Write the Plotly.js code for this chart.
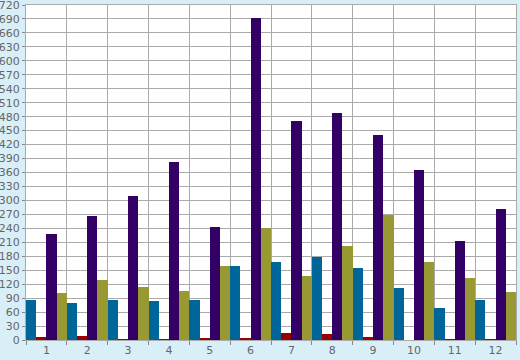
<!DOCTYPE html>
<html>
<head>
<meta charset="utf-8">
<script src="https://cdn.plot.ly/plotly-3.0.1.min.js"></script>
<style>html,body{margin:0;padding:0;background:#d9eff7;}#chart{width:520px;height:360px;}</style>
</head>
<body>
<div id="chart"></div>
<script>
var categories = ["1","2","3","4","5","6","7","8","9","10","11","12"];
var seriesBlue = [86, 80, 86, 84, 86, 159, 168, 178, 155, 112, 69, 86];
var seriesRed = [7, 9, 3, 3, 5, 5, 14, 12, 7, 1, 3, 3];
var seriesPurple = [228, 266, 309, 382, 243, 692, 470, 488, 440, 365, 213, 281];
var seriesOlive = [101, 129, 114, 105, 159, 240, 138, 202, 268, 168, 133, 103];
var yTicks = [];
for (var v = 0; v <= 720; v += 30) yTicks.push(v);

function tr(vals, color, name) {
  return {type: "bar", x: categories, y: vals, name: name, marker: {color: color, line: {width: 0}}, hoverinfo: "x+y"};
}
var data = [
  tr(seriesBlue, "#006699", "A"),
  tr(seriesRed, "#990000", "B"),
  tr(seriesPurple, "#330066", "C"),
  tr(seriesOlive, "#999933", "D")
];
var layout = {
  width: 520, height: 360,
  margin: {l: 26, r: 4, t: 5, b: 20, pad: 0},
  paper_bgcolor: "#d9eff7",
  plot_bgcolor: "#ffffff",
  showlegend: false,
  barmode: "group",
  bargap: 0,
  bargroupgap: 0,
  font: {family: "DejaVu Sans", size: 11, color: "#666666"},
  xaxis: {
    type: "category",
    tickson: "boundaries",
    showgrid: true, gridcolor: "#aaaaaa", gridwidth: 1,
    ticks: "outside", ticklen: 4, tickcolor: "#888888",
    showline: true, linecolor: "#aaaaaa", linewidth: 1, mirror: true,
    tickfont: {family: "DejaVu Sans", size: 11, color: "#666666"},
    zeroline: false, fixedrange: true
  },
  yaxis: {
    range: [0, 720],
    tickmode: "array", tickvals: yTicks, ticktext: yTicks.map(String),
    ticklabeloverflow: "allow",
    showgrid: true, gridcolor: "#aaaaaa", gridwidth: 1,
    ticks: "outside", ticklen: 3, tickcolor: "#888888",
    showline: true, linecolor: "#aaaaaa", linewidth: 1, mirror: true,
    tickfont: {family: "DejaVu Sans", size: 11, color: "#666666"},
    zeroline: false, fixedrange: true
  }
};
Plotly.newPlot("chart", data, layout, {staticPlot: true, displayModeBar: false});
</script>
</body>
</html>
